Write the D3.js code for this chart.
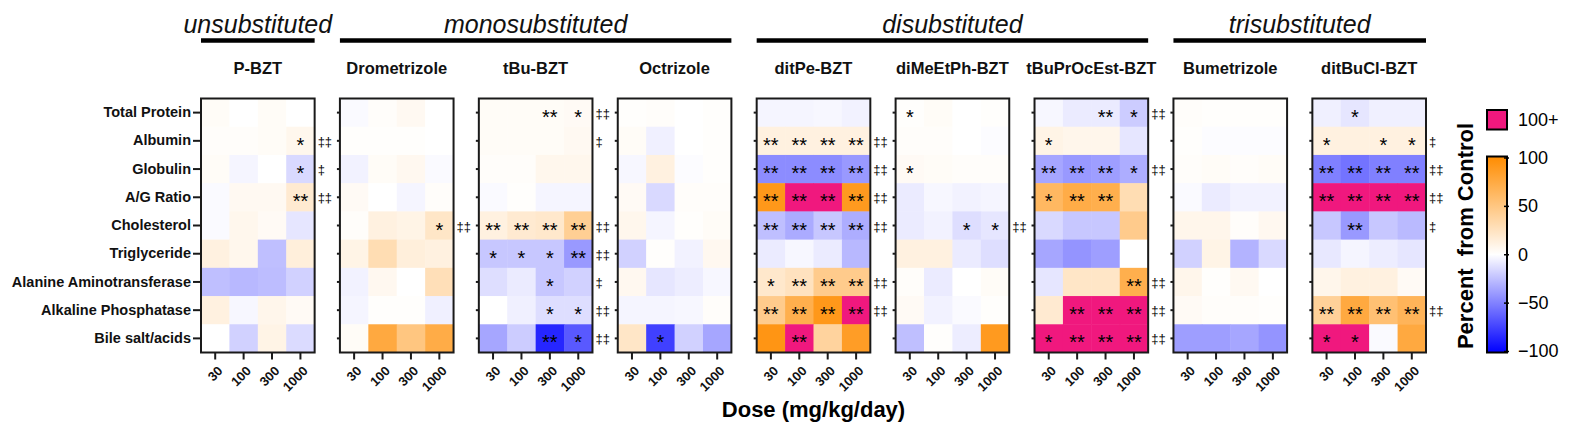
<!DOCTYPE html>
<html>
<head>
<meta charset="utf-8">
<script src="https://cdn.jsdelivr.net/npm/d3@7"></script>
<style>
   html, body { margin: 0; padding: 0; background: #fff; }
   svg { display: block; font-family: Arial, "Liberation Sans", sans-serif; }
</style>
</head>
<body>
<svg class="heatmap" width="1583" height="437"></svg>
<script>
// DATA
var doses = ['30', '100', '300', '1000'];
var endpoints = ['Total Protein', 'Albumin', 'Globulin', 'A/G Ratio', 'Cholesterol', 'Triglyceride',
   'Alanine Aminotransferase', 'Alkaline Phosphatase', 'Bile salt/acids'];
var compounds = ['P-BZT', 'Drometrizole', 'tBu-BZT', 'Octrizole', 'ditPe-BZT', 'diMeEtPh-BZT',
   'tBuPrOcEst-BZT', 'Bumetrizole', 'ditBuCl-BZT'];
var groupNames = ['unsubstituted', 'monosubstituted', 'disubstituted', 'trisubstituted'];
var groupFirst = ['P-BZT', 'Drometrizole', 'ditPe-BZT', 'Bumetrizole'];
var groupLast = ['P-BZT', 'Octrizole', 'tBuPrOcEst-BZT', 'ditBuCl-BZT'];
var legendTicks = [-100, -50, 0, 50, 100];

// percent from control, rows in endpoint order, columns in dose order (130 = "100+")
var pBZT = [[3, 0, 3, 0], [2, 2, 3, 7], [3, -4, 0, -15], [-2, 5, 5, 18], [-2, 7, 4, -10],
   [12, 7, -25, 14], [-25, -28, -26, -18], [12, -3, 8, 4], [0, -18, 10, -14]];
var drometrizole = [[-2, 2, 5, 0], [1, 1, 1, 0], [-5, 3, 6, -2], [4, 0, -4, 2], [2, 12, 10, 22],
   [10, 30, 14, 12], [-5, 6, 0, 28], [-4, 1, 1, -6], [3, 75, 50, 72]];
var tBuBZT = [[3, 3, 3, 4], [3, 3, 3, 5], [2, 2, 7, 7], [-2, 1, -4, -4], [12, 18, 20, 42],
   [-22, -22, -22, -40], [-13, -8, -22, -18], [0, -6, -13, -13], [-35, -20, -85, -65]];
var octrizole = [[1, 2, 0, 1], [3, -6, 0, 1], [-3, 12, -1, 1], [4, -15, 2, 2], [7, -4, 1, 3],
   [-18, 1, -5, 6], [6, -10, -7, -3], [-4, -4, -3, 2], [22, -75, -18, -35]];
var ditPeBZT = [[-4, -4, -3, -5], [12, 12, 12, 12], [-45, -45, -45, -40], [90, 130, 130, 88], [-25, -33, -22, -32],
   [-8, -3, -8, -28], [20, 25, 45, 45], [45, 70, 90, 130], [92, 130, 38, 85]];
var diMeEtPhBZT = [[1, 3, 0, 1], [2, 2, 0, -1], [4, 3, 2, 2], [-8, -3, -5, -4], [-8, -5, -13, -10],
   [12, 12, -8, -13], [2, -8, 0, 3], [4, -5, -2, 1], [-25, 1, -7, 88]];
var tBuPrOcEstBZT = [[-3, -8, -8, -20], [10, 8, 8, -10], [-35, -40, -38, -32], [62, 72, 70, 30], [-15, -22, -22, 45],
   [-35, -42, -38, 0], [-10, 22, 22, 70], [18, 130, 130, 130], [130, 130, 130, 130]];
var bumetrizole = [[2, 1, 1, 1], [1, -1, -1, -1], [2, 3, 2, 3], [-2, -8, -5, -5], [8, 8, 2, 6],
   [-18, 10, -30, -15], [8, 1, 5, 0], [4, 2, 2, 1], [-38, -38, -35, -42]];
var ditBuClBZT = [[-6, -10, -6, -6], [12, 12, 12, 12], [-50, -55, -50, -50], [130, 130, 130, 130], [-22, -40, -22, -27],
   [-9, -4, -7, -10], [8, 12, 12, 4], [40, 75, 55, 65], [130, 130, -2, 75]];

// significance: number of asterisks per dose, one code per endpoint
var pBZTStars = ['0000', '0001', '0001', '0002', '0000', '0000', '0000', '0000', '0000'];
var drometrizoleStars = ['0000', '0000', '0000', '0000', '0001', '0000', '0000', '0000', '0000'];
var tBuBZTStars = ['0021', '0000', '0000', '0000', '2222', '1112', '0010', '0011', '0021'];
var octrizoleStars = ['0000', '0000', '0000', '0000', '0000', '0000', '0000', '0000', '0100'];
var ditPeBZTStars = ['0000', '2222', '2222', '2222', '2222', '0000', '1222', '2222', '0200'];
var diMeEtPhBZTStars = ['1000', '0000', '1000', '0000', '0011', '0000', '0000', '0000', '0000'];
var tBuPrOcEstBZTStars = ['0021', '1000', '2221', '1220', '0000', '0000', '0002', '0222', '1222'];
var bumetrizoleStars = ['0000', '0000', '0000', '0000', '0000', '0000', '0000', '0000', '0000'];
var ditBuClBZTStars = ['0100', '1011', '2222', '2222', '0200', '0000', '0000', '2222', '1100'];

// trend test: number of double daggers per endpoint
var pBZTTrend = [0, 2, 1, 2, 0, 0, 0, 0, 0];
var drometrizoleTrend = [0, 0, 0, 0, 2, 0, 0, 0, 0];
var tBuBZTTrend = [2, 1, 0, 0, 2, 2, 1, 2, 2];
var octrizoleTrend = [0, 0, 0, 0, 0, 0, 0, 0, 0];
var ditPeBZTTrend = [0, 2, 2, 2, 2, 0, 2, 2, 0];
var diMeEtPhBZTTrend = [0, 0, 0, 0, 2, 0, 0, 0, 0];
var tBuPrOcEstBZTTrend = [2, 0, 2, 0, 0, 0, 2, 2, 2];
var bumetrizoleTrend = [0, 0, 0, 0, 0, 0, 0, 0, 0];
var ditBuClBZTTrend = [0, 1, 2, 2, 1, 0, 0, 2, 0];

var values = [pBZT, drometrizole, tBuBZT, octrizole, ditPeBZT, diMeEtPhBZT, tBuPrOcEstBZT, bumetrizole, ditBuClBZT];
var stars = [pBZTStars, drometrizoleStars, tBuBZTStars, octrizoleStars, ditPeBZTStars, diMeEtPhBZTStars,
   tBuPrOcEstBZTStars, bumetrizoleStars, ditBuClBZTStars];
var trends = [pBZTTrend, drometrizoleTrend, tBuBZTTrend, octrizoleTrend, ditPeBZTTrend, diMeEtPhBZTTrend,
   tBuPrOcEstBZTTrend, bumetrizoleTrend, ditBuClBZTTrend];

// SCALES
var svg = d3.select('svg.heatmap');
var overColor = '#f0187e';

var panelScale = d3.scaleBand()
   .domain(compounds)
   .range([201, 1426])
   .paddingInner(0.182);

var rowScale = d3.scaleBand()
   .domain(endpoints)
   .range([98.5, 352.5]);

var doseScale = d3.scaleBand()
   .domain(doses)
   .range([0, panelScale.bandwidth()]);

var colorScale = d3.scaleLinear()
   .domain([-100, 0, 100])
   .range(['#0000ff', '#ffffff', '#ff8c00'])
   .clamp(true);

var fillFor = function (v) {
   return v > 100 ? overColor : colorScale(v);
};

// PANELS
var panels = svg.selectAll('.panel')
   .data(compounds)
   .enter().append('g')
   .attr('class', 'panel')
   .attr('transform', function (d) {
      return 'translate(' + panelScale(d) + ',0)';
   });

var cells = panels.selectAll('.cell')
   .data(function (d, i) {
      var out = [];
      endpoints.forEach(function (ep, r) {
         doses.forEach(function (dose, c) {
            out.push({
               endpoint: ep,
               dose: dose,
               value: values[i][r][c],
               stars: +stars[i][r].charAt(c)
            });
         });
      });
      return out;
   })
   .enter().append('g')
   .attr('class', 'cell');

cells.append('rect')
   .attr('x', function (d) { return doseScale(d.dose); })
   .attr('y', function (d) { return rowScale(d.endpoint); })
   .attr('width', doseScale.bandwidth() + 0.5)
   .attr('height', rowScale.bandwidth() + 0.5)
   .attr('fill', function (d) { return fillFor(d.value); });

cells.filter(function (d) { return d.stars > 0; })
   .append('text')
   .attr('x', function (d) { return doseScale(d.dose) + doseScale.bandwidth() / 2; })
   .attr('y', function (d) { return rowScale(d.endpoint) + rowScale.bandwidth() / 2 + 11; })
   .attr('text-anchor', 'middle')
   .style('font-size', '20px')
   .attr('fill', '#000')
   .text(function (d) { return d.stars === 2 ? '**' : '*'; });

panels.append('rect')
   .attr('x', 0)
   .attr('y', rowScale.range()[0])
   .attr('width', panelScale.bandwidth())
   .attr('height', rowScale.range()[1] - rowScale.range()[0])
   .attr('fill', 'none')
   .attr('stroke', '#1a1a1a')
   .attr('stroke-width', 2);

// trend daggers to the right of each panel
panels.selectAll('.trend')
   .data(function (d, i) {
      return endpoints.map(function (ep, r) {
         return {endpoint: ep, count: trends[i][r]};
      }).filter(function (t) { return t.count > 0; });
   })
   .enter().append('text')
   .attr('class', 'trend')
   .attr('x', panelScale.bandwidth() + 3)
   .attr('y', function (d) { return rowScale(d.endpoint) + rowScale.bandwidth() / 2 + 5; })
   .style('font-family', '"Liberation Sans", sans-serif')
   .style('font-size', '13px')
   .attr('fill', '#000')
   .text(function (d) { return d.count === 2 ? '\u2021\u2021' : '\u2021'; });

// titles
panels.append('text')
   .attr('x', panelScale.bandwidth() / 2)
   .attr('y', 74)
   .attr('text-anchor', 'middle')
   .style('font-size', '16.5px')
   .style('font-weight', 'bold')
   .attr('fill', '#111')
   .text(function (d) { return d; });

// AXES
panels.each(function (d, i) {
   var g = d3.select(this);

   var bottom = g.append('g')
      .attr('class', 'axis axis--x')
      .attr('transform', 'translate(0,' + rowScale.range()[1] + ')')
      .call(d3.axisBottom(doseScale).tickSize(7));

   bottom.select('.domain').remove();
   bottom.selectAll('line').attr('stroke', '#1a1a1a').attr('stroke-width', 2);
   bottom.selectAll('text')
      .attr('y', 0)
      .attr('dy', '0.35em')
      .attr('text-anchor', 'end')
      .attr('transform', 'translate(5,16) rotate(-45)')
      .attr('fill', '#111')
      .style('font-size', '13px')
      .style('font-weight', 'bold');

   var left = g.append('g')
      .attr('class', 'axis axis--y')
      .call(d3.axisLeft(rowScale)
         .tickSize(i === 0 ? 8 : 3)
         .tickPadding(2)
         .tickFormat(i === 0 ? null : ''));

   left.select('.domain').remove();
   left.selectAll('line').attr('stroke', '#1a1a1a').attr('stroke-width', 2);
   left.selectAll('text')
      .attr('fill', '#111')
      .style('font-size', '14.5px')
      .style('font-weight', 'bold');
});

// GROUP HEADERS
var groups = svg.selectAll('.group')
   .data(groupNames)
   .enter().append('g')
   .attr('class', 'group');

groups.append('line')
   .attr('x1', function (d, i) { return panelScale(groupFirst[i]); })
   .attr('x2', function (d, i) { return panelScale(groupLast[i]) + panelScale.bandwidth(); })
   .attr('y1', 40.5)
   .attr('y2', 40.5)
   .attr('stroke', '#000')
   .attr('stroke-width', 4.5);

groups.append('text')
   .attr('x', function (d, i) {
      return (panelScale(groupFirst[i]) + panelScale(groupLast[i]) + panelScale.bandwidth()) / 2;
   })
   .attr('y', 33)
   .attr('text-anchor', 'middle')
   .style('font-size', '25px')
   .style('font-style', 'italic')
   .attr('fill', '#111')
   .text(function (d) { return d; });

svg.append('text')
   .attr('x', (panelScale.range()[0] + panelScale.range()[1]) / 2)
   .attr('y', 417)
   .attr('text-anchor', 'middle')
   .style('font-size', '22px')
   .style('font-weight', 'bold')
   .attr('fill', '#000')
   .text('Dose (mg/kg/day)');

// LEGEND
var legendScale = d3.scaleLinear()
   .domain([-100, 100])
   .range([351, 157.5]);

var defs = svg.append('defs');
var gradient = defs.append('linearGradient')
   .attr('id', 'pctGradient')
   .attr('x1', 0).attr('y1', 1)
   .attr('x2', 0).attr('y2', 0);

gradient.selectAll('stop')
   .data(d3.range(-100, 101, 25))
   .enter().append('stop')
   .attr('offset', function (d) { return (d + 100) / 200; })
   .attr('stop-color', function (d) { return colorScale(d); });

var legend = svg.append('g')
   .attr('class', 'legend')
   .attr('transform', 'translate(1487,0)');

legend.append('rect')
   .attr('x', 0)
   .attr('y', 110)
   .attr('width', 20)
   .attr('height', 19.5)
   .attr('fill', overColor)
   .attr('stroke', '#000')
   .attr('stroke-width', 2);

legend.append('text')
   .attr('x', 31)
   .attr('y', 126)
   .style('font-size', '18px')
   .attr('fill', '#000')
   .text('100+');

legend.append('rect')
   .attr('x', 0)
   .attr('y', 156.5)
   .attr('width', 20)
   .attr('height', 196)
   .attr('fill', 'url(#pctGradient)')
   .attr('stroke', '#000')
   .attr('stroke-width', 2);

var legendAxis = legend.append('g')
   .attr('transform', 'translate(20,0)')
   .call(d3.axisRight(legendScale).tickValues(legendTicks).tickSize(4).tickPadding(7));

legendAxis.select('.domain').remove();
legendAxis.selectAll('line').attr('x1', -3).attr('x2', 2).attr('stroke', '#000').attr('stroke-width', 1.5);
legendAxis.selectAll('text')
   .attr('fill', '#000')
   .style('font-size', '18px');

svg.append('text')
   .attr('transform', 'translate(1473,236) rotate(-90)')
   .attr('text-anchor', 'middle')
   .style('font-size', '22px')
   .style('font-weight', 'bold')
   .style('white-space', 'pre')
   .attr('fill', '#000')
   .text('Percent  from Control');
</script>
</body>
</html>
